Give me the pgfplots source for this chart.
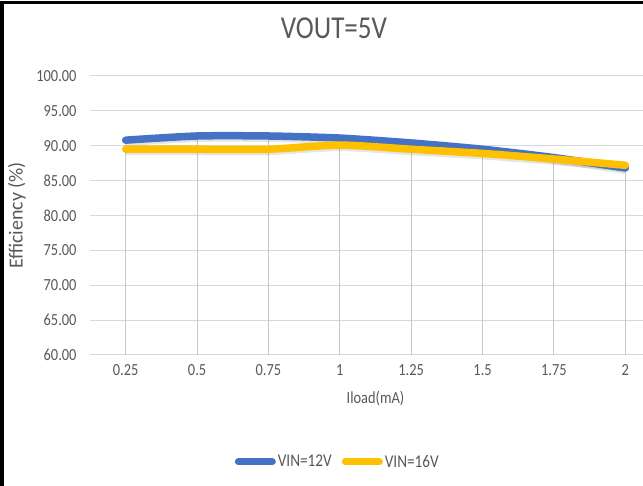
\documentclass[border=0pt]{standalone}
\usepackage{pgfplots}
\pgfplotsset{compat=1.18}
\usepackage{fontspec}
\setmainfont{Carlito}[FakeStretch=0.85]
\newfontfamily\ylabfont{Carlito}
\definecolor{txtgray}{HTML}{595959}
\definecolor{gridgray}{HTML}{D9D9D9}
\definecolor{dropgray}{HTML}{C8C8C8}
\definecolor{xlblue}{HTML}{4472C4}
\definecolor{xlyellow}{HTML}{FFC000}
\newcommand{\xs}{\rule{0pt}{17bp}}
\begin{document}
\begin{tikzpicture}[x=1bp,y=1bp]
\useasboundingbox (0,0) rectangle (643,486);
\clip (0,0) rectangle (643,486);
\fill[white] (0,0) rectangle (643,486);
\begin{axis}[
  at={(90bp,131bp)}, anchor=south west,
  scale only axis, width=571bp, height=279bp,
  xmin=0.5, xmax=8.5, ymin=60, ymax=100,
  clip=false,
  xtick={1,2,3,4,5,6,7,8},
  xticklabels={\xs 0.25,\xs 0.5,\xs 0.75,\xs 1,\xs 1.25,\xs 1.5,\xs 1.75,\xs 2},
  ytick={60,65,70,75,80,85,90,95,100},
  yticklabel={\pgfmathprintnumber[fixed,fixed zerofill,precision=2]{\tick}\hspace*{10bp}},
  /pgf/number format/assume math mode=true,
  axis line style={draw=none},
  tick style={draw=none},
  ymajorgrids,
  major grid style={draw=gridgray, line width=1bp},
  tick label style={font=\fontsize{17}{20}\selectfont, text=txtgray},
  xlabel={Iload(mA)},
  xlabel style={at={(axis description cs:0.5,0)}, anchor=north, yshift=-33bp, font=\fontsize{17}{20}\selectfont, text=txtgray},
  ylabel style={at={(axis description cs:-0.128,0.5)}, anchor=center, rotate=0},
  legend style={at={(axis description cs:0.434,-0.383)}, anchor=center,
    draw=none, fill=none, font=\fontsize{18}{21}\selectfont, text=txtgray,
    /tikz/every even column/.append style={column sep=8bp}},
  legend columns=2,
  legend image code/.code={\draw[#1, line width=7bp] (0bp,0bp) -- (34bp,0bp);},
  ylabel={\ylabfont\fontsize{20}{23}\selectfont\color{txtgray}Efficiency (\%)},
]
% drop lines
\addplot[ycomb, draw=dropgray, line width=1bp, forget plot] coordinates {
 (1,90.8) (2,91.4) (3,91.4) (4,91.1) (5,90.4) (6,89.5) (7,88.3) (8,87.2)};
% shadows
\addplot[smooth, tension=0.4, draw=black, opacity=0.10, line width=8bp, yshift=-2bp, forget plot] coordinates {
 (1,90.8) (2,91.4) (3,91.4) (4,91.1) (5,90.4) (6,89.5) (7,88.3) (8,86.8)};
\addplot[smooth, tension=0.4, draw=black, opacity=0.10, line width=8bp, yshift=-2bp, forget plot] coordinates {
 (1,89.5) (2,89.5) (3,89.5) (4,90.1) (5,89.5) (6,88.9) (7,88.1) (8,87.2)};
% series
\addplot[smooth, tension=0.4, draw=xlblue, line width=7.5bp, line cap=round] coordinates {
 (1,90.8) (2,91.4) (3,91.4) (4,91.1) (5,90.4) (6,89.5) (7,88.3) (8,86.8)};
\addlegendentry{VIN=12V}
\addplot[smooth, tension=0.4, draw=xlyellow, line width=7.5bp, line cap=round] coordinates {
 (1,89.5) (2,89.5) (3,89.5) (4,90.1) (5,89.5) (6,88.9) (7,88.1) (8,87.2)};
\addlegendentry{VIN=16V}
\end{axis}
\node[text=txtgray, font=\fontsize{32}{36}\selectfont] at (334,458) {VOUT=5V};
\draw[black, line width=3bp] (2,-20) -- (2,483) -- (700,483);
\end{tikzpicture}
\end{document}
